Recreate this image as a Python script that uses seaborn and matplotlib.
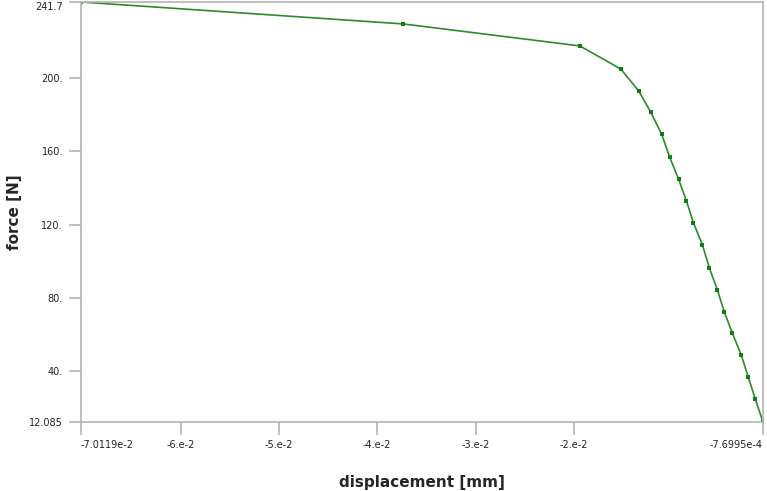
import numpy as np
import pandas as pd
import seaborn as sns
import matplotlib.pyplot as plt
import matplotlib.transforms as mtransforms

# displacement [mm] and force [N]
displacement = [-0.070119, -0.03733, -0.0194, -0.01524, -0.01341, -0.0122, -0.01108,
                -0.01027, -0.00936, -0.00855, -0.00784, -0.00693, -0.00622, -0.00541,
                -0.00470, -0.00389, -0.00298, -0.00227, -0.00156, -0.00076995]
force = [241.7, 229.7, 217.7, 205.1, 193.1, 181.6, 169.5,
         157.0, 144.9, 132.9, 120.9, 108.9, 96.3, 84.3,
         72.2, 60.7, 48.7, 36.7, 24.7, 12.085]

xticks = [-0.070119, -0.06, -0.05, -0.04, -0.03, -0.02, -0.00076995]
xtick_labels = ["-7.0119e-2", "-6.e-2", "-5.e-2", "-4.e-2", "-3.e-2", "-2.e-2", "-7.6995e-4"]
yticks = [12.085, 40, 80, 120, 160, 200, 241.7]
ytick_labels = ["12.085", "40.", "80.", "120.", "160.", "200.", "241.7"]

df = pd.DataFrame({"displacement": displacement, "force": force})

sns.set_style("white")
plt.rcParams["font.family"] = ["DejaVu Sans"]

fig = plt.figure(figsize=(7.67, 4.91), dpi=100)
ax = fig.add_axes([81 / 767, (491 - 422) / 491, (763 - 81) / 767, (422 - 2) / 491])

sns.lineplot(data=df, x="displacement", y="force", ax=ax, color="#2a8c2a",
             linewidth=1.2, marker="s", markersize=3.5, markeredgewidth=0,
             markerfacecolor="#157a15", sort=False)

ax.set_xlim(displacement[0], displacement[-1])
ax.set_ylim(force[-1], force[0])
ax.set_xticks(xticks)
ax.set_xticklabels(xtick_labels)
ax.set_yticks(yticks)
ax.set_yticklabels(ytick_labels)

# end labels sit inside the axis range, like the original
xl = ax.get_xticklabels()
xl[0].set_ha("left")
xl[0].set_transform(xl[0].get_transform() +
                    mtransforms.ScaledTranslation(-4 / 100, 0, fig.dpi_scale_trans))
xl[-1].set_ha("right")
ax.get_yticklabels()[-1].set_va("top")

for s in ax.spines.values():
    s.set_color("#b4b4b4")
    s.set_linewidth(1.2)

ax.tick_params(axis="both", which="both", direction="out", length=9, width=1.2,
               color="#b4b4b4", labelsize=7, labelcolor="#222222", pad=4,
               bottom=True, left=True)

ax.set_xlabel("displacement [mm]", fontsize=11, fontweight="bold", labelpad=18)
ax.set_ylabel("force [N]", fontsize=11, fontweight="bold")
ax.yaxis.set_label_coords(-(81 - 22) / 682, 0.5)

fig.savefig("out.png", dpi=100)
